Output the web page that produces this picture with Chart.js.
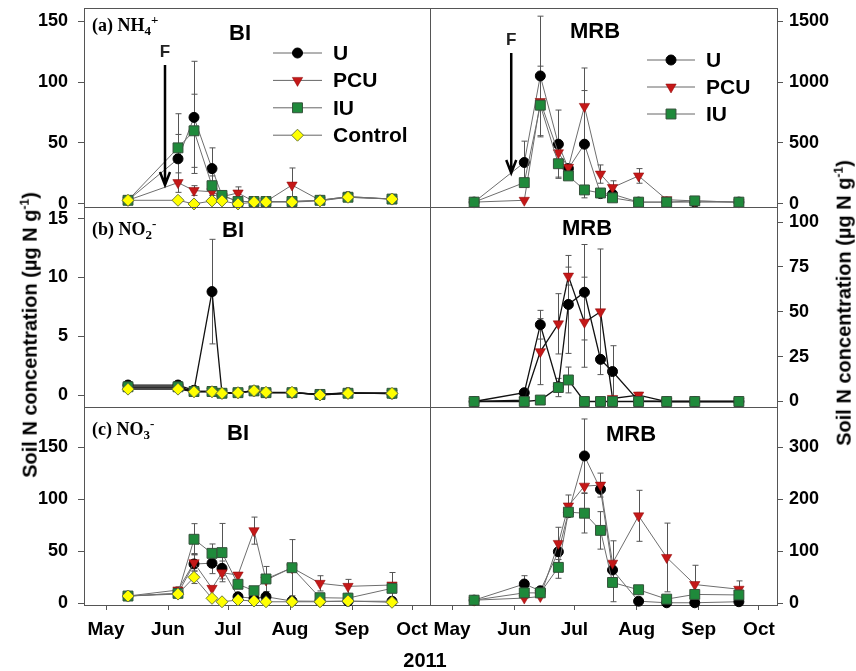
<!doctype html>
<html>
<head>
<title>Soil N concentration 2011</title>
<script src="https://cdn.jsdelivr.net/npm/chart.js"></script>
<style>
	body { margin: 0; background: #fff; overflow: hidden; }
	#wrap { position: relative; width: 856px; height: 671px; overflow: hidden; font-family: Arial, "Liberation Sans", sans-serif; }
	#wrap canvas { position: absolute; left: 0; top: -100px; }
	.txt { position: absolute; white-space: nowrap; color: #000; line-height: 1; }
	.site { font-weight: bold; font-size: 22px; transform: translate(-50%, -50%); }
	.tag { font-family: "Liberation Serif", "Times New Roman", serif; font-weight: bold; font-size: 18px; transform: translateY(-50%); }
	.tag sub, .tag sup { font-size: 13px; }
	.ytitle { font-weight: bold; font-size: 20px; transform: translate(-50%, -50%) rotate(-90deg); }
	.ytitle sup { font-size: 12px; }
</style>
</head>
<body>
<div id="wrap">
	<canvas id="nh4Bi" width="856" height="871"></canvas>
	<canvas id="nh4Mrb" width="856" height="871"></canvas>
	<canvas id="no2Bi" width="856" height="871"></canvas>
	<canvas id="no2Mrb" width="856" height="871"></canvas>
	<canvas id="no3Bi" width="856" height="871"></canvas>
	<canvas id="no3Mrb" width="856" height="871"></canvas>

	<div class="txt tag" style="left:92px; top:25px;">(a) NH<sub>4</sub><sup>+</sup></div>
	<div class="txt tag" style="left:92px; top:229px;">(b) NO<sub>2</sub><sup>-</sup></div>
	<div class="txt tag" style="left:92px; top:429px;">(c) NO<sub>3</sub><sup>-</sup></div>
	<div class="txt site" style="left:240px; top:33px;">BI</div>
	<div class="txt site" style="left:595px; top:31px;">MRB</div>
	<div class="txt site" style="left:233px; top:230px;">BI</div>
	<div class="txt site" style="left:587px; top:228px;">MRB</div>
	<div class="txt site" style="left:238px; top:433px;">BI</div>
	<div class="txt site" style="left:631px; top:434px;">MRB</div>
	<div class="txt ytitle" style="left:29px; top:335px;">Soil N concentration (&micro;g N g<sup>-1</sup>)</div>
	<div class="txt ytitle" style="left:843px; top:303px;">Soil N concentration (&micro;g N g<sup>-1</sup>)</div>
	<div class="txt" style="left:425px; top:660px; font-weight:bold; font-size:20px; transform:translate(-50%,-50%);">2011</div>
</div>
<script>
	// sampling dates as day of year 2011 (May 12 ... Sep 21)
	var sampleDays = [132, 157, 165, 174, 179, 187, 195, 201, 214, 228, 242, 264];
	var monthDays = [121, 152, 182, 213, 244, 274];
	var monthNames = ['May', 'Jun', 'Jul', 'Aug', 'Sep', 'Oct'];
	var fertDay = 150.5;

	// (a) NH4+
	var nh4BiTicks = [0, 50, 100, 150];
	var nh4BiU = [3, 37, 71, 29, 7, 2, 2, 2, 2, 3, 6, 4];
	var nh4BiUErr = [0, 20, 46, 17, 0, 0, 0, 0, 0, 0, 0, 0];
	var nh4BiPCU = [3, 17.5, 11, 10, 6, 9, 2, 2, 15.5, 3, 6, 4];
	var nh4BiPCUErr = [0, 8, 4, 3, 0, 5, 0, 0, 14, 0, 0, 0];
	var nh4BiIU = [3, 46, 60, 15, 7, 2, 2, 2, 2, 3, 5.5, 4];
	var nh4BiIUErr = [0, 28, 30, 8, 0, 0, 0, 0, 0, 0, 0, 0];
	var nh4BiCtl = [3, 3, 0, 2.5, 2.5, 0, 1.5, 1.5, 1.5, 2.5, 5.5, 4];

	var nh4MrbTicks = [0, 500, 1000, 1500];
	var nh4MrbU = [15, 340, 1050, 490, 290, 490, 85, 80, 15, 15, 15, 15];
	var nh4MrbUErr = [0, 175, 490, 280, 0, 440, 0, 0, 0, 0, 0, 0];
	var nh4MrbPCU = [15, 30, 840, 420, 300, 800, 245, 135, 230, 35, 25, 15];
	var nh4MrbPCUErr = [0, 0, 290, 0, 0, 315, 75, 55, 60, 0, 0, 0];
	var nh4MrbIU = [15, 175, 810, 330, 230, 115, 90, 50, 15, 15, 25, 15];
	var nh4MrbIUErr = [0, 0, 0, 110, 0, 0, 0, 0, 0, 0, 0, 0];

	// (b) NO2-
	var no2BiTicks = [0, 5, 10, 15];
	var no2BiU = [0.85, 0.85, 0.4, 8.8, 0.15, 0.2, 0.35, 0.2, 0.2, 0.05, 0.2, 0.1];
	var no2BiUErr = [0, 0, 0, 4.45, 0, 0, 0, 0, 0, 0, 0, 0];
	var no2BiPCU = [0.6, 0.6, 0.3, 0.3, 0.15, 0.2, 0.35, 0.2, 0.2, 0.05, 0.15, 0.15];
	var no2BiIU = [0.7, 0.7, 0.3, 0.3, 0.15, 0.2, 0.35, 0.2, 0.2, 0.05, 0.15, 0.15];
	var no2BiCtl = [0.5, 0.5, 0.28, 0.28, 0.14, 0.2, 0.37, 0.23, 0.23, 0, 0.14, 0.14];

	var no2MrbTicks = [0, 25, 50, 75, 100];
	var no2MrbU = [0, 4.9, 42.8, 8.2, 54.1, 60.9, 23.5, 16.7, 0.3, 0, 0, 0];
	var no2MrbUErr = [0, 0, 8, 0, 27.3, 26.6, 0, 14.4, 0, 0, 0, 0];
	var no2MrbPCU = [0, 0.8, 27.8, 43.3, 69.9, 44.2, 50, 1.7, 3.6, 0, 0, 0];
	var no2MrbPCUErr = [0, 0, 18.4, 16.8, 5, 25.1, 35, 0, 1.5, 0, 0, 0];
	var no2MrbIU = [0, 0, 0.8, 7.8, 12, 0, 0, 0, 0, 0, 0, 0];
	var no2MrbIUErr = [0, 0, 0, 5.1, 7.2, 0, 0, 0, 0, 0, 0, 0];

	// (c) NO3-
	var no3BiTicks = [0, 50, 100, 150];
	var no3BiU = [7, 9.6, 37.8, 38.5, 33.6, 6.3, 4.8, 6.3, 2.2, 2, 2, 2];
	var no3BiUErr = [0, 0, 10, 10, 7, 0, 0, 0, 0, 0, 0, 0];
	var no3BiPCU = [7, 12.8, 39, 14.4, 29.4, 27.2, 69.8, 22.4, 34.2, 19.2, 16.3, 17.6];
	var no3BiPCUErr = [0, 3, 8, 0, 6, 0, 13, 0, 0, 7.3, 6.7, 12];
	var no3BiIU = [7, 9.6, 61.5, 48, 48.7, 18.3, 12.1, 23.4, 34.2, 5.4, 5, 14.4];
	var no3BiIUErr = [0, 0, 15, 9, 28, 0, 0, 12, 27, 0, 0, 4];
	var no3BiCtl = [7, 8.9, 25, 4.8, 1.5, 3.2, 2.2, 1.5, 1.5, 1.5, 2.2, 1];
	var no3BiCtlErr = [0, 0, 6, 0, 0, 0, 0, 0, 0, 0, 0, 0];

	var no3MrbTicks = [0, 100, 200, 300];
	var no3MrbU = [6, 37, 24, 99, 174, 283, 219, 64, 4, 1, 1, 3];
	var no3MrbUErr = [0, 16, 0, 0, 0, 71, 0, 0, 0, 0, 0, 0];
	var no3MrbPCU = [6, 10, 13, 115, 187, 225, 227, 77, 168, 88, 36, 27];
	var no3MrbPCUErr = [0, 0, 0, 31, 21, 0, 23, 43, 49, 66, 37, 16];
	var no3MrbIU = [6, 20, 20, 69, 175, 173, 140, 40, 26, 8, 17, 16];
	var no3MrbIUErr = [0, 0, 0, 21, 0, 38, 36, 37, 5, 0, 0, 0];

	Chart.defaults.font.family = 'Arial, "Liberation Sans", sans-serif';
	Chart.defaults.color = '#000';

	var OFF = 100; // canvases start 100px above the page, so label overflow never shifts the plot area
	var CH = 871;

	var markers = {
		U: { pointStyle: 'circle', pointRadius: 5, pointRotation: 0, pointBackgroundColor: '#000', pointBorderColor: '#000', pointBorderWidth: 1 },
		PCU: { pointStyle: 'triangle', pointRadius: 6, pointRotation: 180, pointBackgroundColor: '#c41818', pointBorderColor: '#8b0000', pointBorderWidth: 0.5 },
		IU: { pointStyle: 'rect', pointRadius: 7, pointRotation: 0, pointBackgroundColor: '#1f8a3b', pointBorderColor: '#34513a', pointBorderWidth: 1 },
		Control: { pointStyle: 'rectRot', pointRadius: 6, pointRotation: 0, pointBackgroundColor: '#ffff00', pointBorderColor: '#6b7a3a', pointBorderWidth: 1 }
	};
	// later series sit on top, as in the original plot
	var drawOrder = { U: 4, PCU: 3, IU: 2, Control: 1 };

	function series(label, values, errs, lineColor, lineWidth) {
		var ds = {
			label: label,
			data: values.map(function(v, i) { return { x: sampleDays[i], y: v }; }),
			err: errs || null,
			order: drawOrder[label],
			borderColor: lineColor,
			borderWidth: lineWidth,
			clip: false
		};
		Object.assign(ds, markers[label]);
		return ds;
	}

	// frame around each panel
	var panelBox = {
		id: 'panelBox',
		beforeDatasetsDraw: function(chart) {
			var a = chart.chartArea, ctx = chart.ctx;
			ctx.save();
			ctx.strokeStyle = '#555';
			ctx.lineWidth = 1;
			ctx.strokeRect(Math.round(a.left) + 0.5, Math.round(a.top) + 0.5, Math.round(a.right - a.left), Math.round(a.bottom - a.top));
			ctx.restore();
		}
	};

	var errorBars = {
		id: 'errorBars',
		beforeDatasetsDraw: function(chart) {
			var ctx = chart.ctx, xs = chart.scales.x, ys = chart.scales.y;
			ctx.save();
			ctx.strokeStyle = '#555';
			ctx.lineWidth = 1;
			chart.data.datasets.forEach(function(ds) {
				if (!ds.err) return;
				ds.data.forEach(function(p, j) {
					var e = ds.err[j];
					if (!e) return;
					var x = Math.round(xs.getPixelForValue(p.x)) + 0.5;
					var yHi = ys.getPixelForValue(p.y + e), yLo = ys.getPixelForValue(p.y - e);
					ctx.beginPath();
					ctx.moveTo(x, yHi); ctx.lineTo(x, yLo);
					ctx.moveTo(x - 3, yHi); ctx.lineTo(x + 3, yHi);
					ctx.moveTo(x - 3, yLo); ctx.lineTo(x + 3, yLo);
					ctx.stroke();
				});
			});
			ctx.restore();
		}
	};

	// legend drawn as line + marker, like the sigmaplot style
	var lineLegend = {
		id: 'lineLegend',
		afterDatasetsDraw: function(chart, args, opts) {
			if (!opts || opts.x === undefined) return;
			var ctx = chart.ctx;
			ctx.save();
			chart.data.datasets.forEach(function(ds, i) {
				var y = OFF + opts.y + i * opts.gap;
				ctx.strokeStyle = '#666';
				ctx.lineWidth = 1;
				ctx.beginPath();
				ctx.moveTo(opts.x, y); ctx.lineTo(opts.x + opts.len, y);
				ctx.stroke();
				ctx.fillStyle = ds.pointBackgroundColor;
				ctx.strokeStyle = ds.pointBorderColor;
				ctx.lineWidth = ds.pointBorderWidth;
				Chart.helpers.drawPoint(ctx, {
					pointStyle: ds.pointStyle, rotation: ds.pointRotation, radius: ds.pointRadius, borderWidth: ds.pointBorderWidth
				}, opts.x + opts.len / 2, y);
				ctx.fillStyle = '#000';
				ctx.font = 'bold 21px Arial, "Liberation Sans", sans-serif';
				ctx.textBaseline = 'middle';
				ctx.fillText(ds.label, opts.x + opts.len + 11, y + 1);
			});
			ctx.restore();
		}
	};

	// fertilisation arrow "F"
	var arrowF = {
		id: 'arrowF',
		afterDatasetsDraw: function(chart, args, opts) {
			if (!opts || opts.top === undefined) return;
			var ctx = chart.ctx;
			var x = chart.scales.x.getPixelForValue(fertDay);
			var yTop = chart.scales.y.getPixelForValue(opts.top);
			var yBot = chart.scales.y.getPixelForValue(opts.bottom);
			ctx.save();
			ctx.strokeStyle = '#000';
			ctx.lineWidth = 2.5;
			ctx.beginPath();
			ctx.moveTo(x, yTop); ctx.lineTo(x, yBot);
			ctx.moveTo(x - 5, yBot - 13); ctx.lineTo(x, yBot); ctx.lineTo(x + 5, yBot - 13);
			ctx.stroke();
			ctx.fillStyle = '#222';
			ctx.font = 'bold 17px Arial, "Liberation Sans", sans-serif';
			ctx.textAlign = 'center';
			ctx.textBaseline = 'middle';
			ctx.fillText('F', x, yTop - 13);
			ctx.restore();
		}
	};

	function makePanel(id, col, row, yMin, yMax, yTicks, datasets, extra) {
		var left = col === 0;
		var bottomRow = row === 2;
		var rowTop = [8, 207, 407][row] + OFF;
		var rowBottom = [207, 407, 605][row] + OFF;
		var xAxisH = 66;
		return new Chart(document.getElementById(id), {
			type: 'line',
			data: { datasets: datasets },
			options: {
				responsive: false,
				animation: false,
				events: [],
				layout: {
					autoPadding: false,
					padding: {
						left: left ? 0 : 430,
						right: left ? 856 - 430 : 0,
						top: rowTop,
						bottom: bottomRow ? CH - rowBottom - xAxisH : CH - rowBottom
					}
				},
				plugins: {
					legend: { display: false },
					tooltip: { enabled: false },
					lineLegend: extra.legend || {},
					arrowF: extra.arrow || {}
				},
				scales: {
					x: {
						type: 'linear',
						min: 110,
						max: 283,
						display: bottomRow,
						afterFit: function(s) { if (bottomRow) s.height = xAxisH; },
						afterBuildTicks: function(s) { s.ticks = monthDays.map(function(v) { return { value: v }; }); },
						ticks: {
							autoSkip: false,
							maxRotation: 0,
							padding: 8,
							color: '#000',
							font: { size: 19, weight: 'bold' },
							callback: function(v) { return monthNames[monthDays.indexOf(v)]; }
						},
						grid: { drawOnChartArea: false, tickLength: 5, color: '#555' },
						border: { display: false }
					},
					y: {
						position: left ? 'left' : 'right',
						min: yMin,
						max: yMax,
						afterFit: function(s) { s.width = left ? 84 : 856 - 777; },
						afterBuildTicks: function(s) { s.ticks = yTicks.map(function(v) { return { value: v }; }); },
						ticks: {
							autoSkip: false,
							padding: left ? 10 : 6,
							color: '#000',
							font: { size: 18, weight: 'bold' },
							callback: function(v) { return String(v); }
						},
						grid: { drawOnChartArea: false, tickLength: 6, color: '#555' },
						border: { display: false }
					}
				}
			},
			plugins: [panelBox, errorBars, lineLegend, arrowF]
		});
	}

	var grey = '#6e6e6e', dark = '#111';

	window.onload = function() {
		makePanel('nh4Bi', 0, 0, -2.5, 160.7, nh4BiTicks, [
			series('U', nh4BiU, nh4BiUErr, grey, 1),
			series('PCU', nh4BiPCU, nh4BiPCUErr, grey, 1),
			series('IU', nh4BiIU, nh4BiIUErr, grey, 1),
			series('Control', nh4BiCtl, null, grey, 1)
		], { legend: { x: 273, y: 53, gap: 27.4, len: 49 }, arrow: { top: 114, bottom: 15.6 } });

		makePanel('nh4Mrb', 1, 0, -25, 1607, nh4MrbTicks, [
			series('U', nh4MrbU, nh4MrbUErr, grey, 1),
			series('PCU', nh4MrbPCU, nh4MrbPCUErr, grey, 1),
			series('IU', nh4MrbIU, nh4MrbIUErr, grey, 1)
		], { legend: { x: 647, y: 60, gap: 27, len: 48 }, arrow: { top: 1238, bottom: 254 } });

		makePanel('no2Bi', 0, 1, -1.02, 16.0, no2BiTicks, [
			series('U', no2BiU, no2BiUErr, dark, 1.3),
			series('PCU', no2BiPCU, null, dark, 1.3),
			series('IU', no2BiIU, null, dark, 1.3),
			series('Control', no2BiCtl, null, dark, 1.3)
		], {});

		makePanel('no2Mrb', 1, 1, -3.06, 108.4, no2MrbTicks, [
			series('U', no2MrbU, no2MrbUErr, dark, 1.3),
			series('PCU', no2MrbPCU, no2MrbPCUErr, dark, 1.3),
			series('IU', no2MrbIU, no2MrbIUErr, dark, 1.3)
		], {});

		makePanel('no3Bi', 0, 2, -1.6, 188.5, no3BiTicks, [
			series('U', no3BiU, no3BiUErr, grey, 1),
			series('PCU', no3BiPCU, no3BiPCUErr, grey, 1),
			series('IU', no3BiIU, no3BiIUErr, grey, 1),
			series('Control', no3BiCtl, no3BiCtlErr, grey, 1)
		], {});

		makePanel('no3Mrb', 1, 2, -3.3, 377, no3MrbTicks, [
			series('U', no3MrbU, no3MrbUErr, grey, 1),
			series('PCU', no3MrbPCU, no3MrbPCUErr, grey, 1),
			series('IU', no3MrbIU, no3MrbIUErr, grey, 1)
		], {});
	};
</script>
</body>
</html>
